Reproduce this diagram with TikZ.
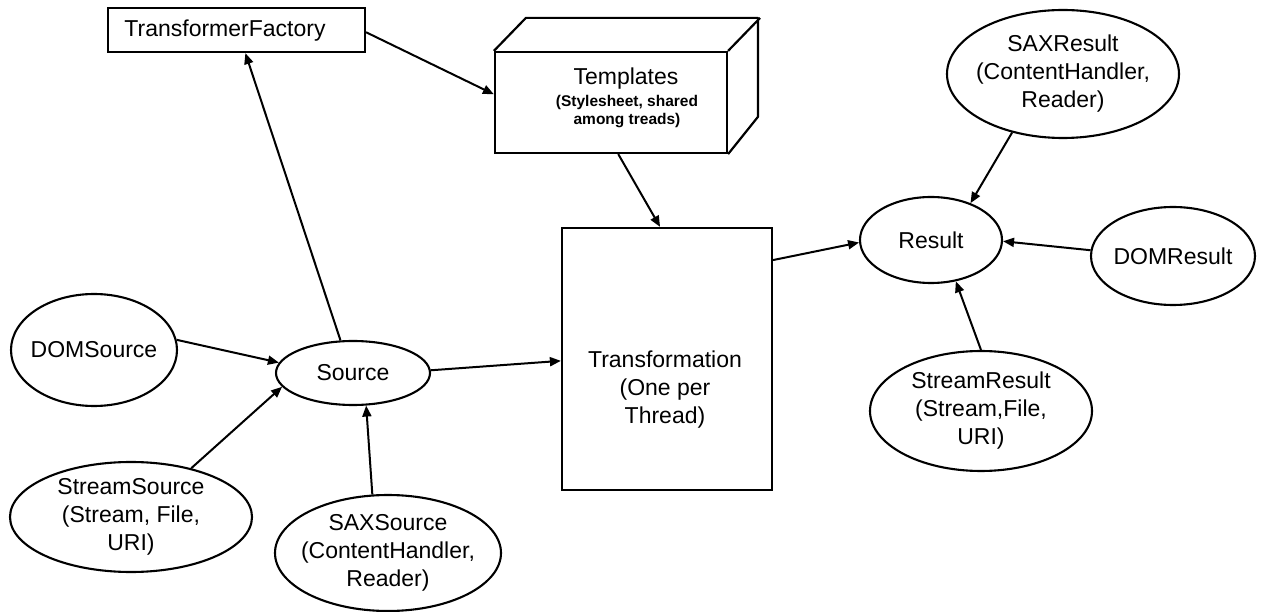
\documentclass[tikz,border=0pt]{standalone}
\usepackage{fontspec}
\setmainfont{Liberation Sans}
\usetikzlibrary{shapes.geometric,arrows.meta}
\begin{document}
\begin{tikzpicture}[x=1pt,y=-1pt,
  every node/.style={font=\fontsize{23}{28}\selectfont},
  oval/.style={draw, ellipse, line width=2.1pt, inner sep=-80pt, align=center},
  box/.style={draw, rectangle, line width=2.2pt, inner sep=0pt},
  txt/.style={align=center, inner sep=0pt},
  flow/.style={line width=2pt, -{Triangle[length=11pt,width=9pt]}}
]
\useasboundingbox (0,0) rectangle (1262,612);

% factory and templates
\node[box, minimum width=257pt, minimum height=44pt] (tf) at (236.5,30) {};
\node[txt] (tf-t) at (225,31) {TransformerFactory};

\node[box, minimum width=232pt, minimum height=101pt] (tmpl) at (611,102.5) {};
\draw[line width=2.2pt, line join=round]
  (tmpl.north west) -- ++(32,-33) -- ++(232,0) -- ++(0,99) -- (tmpl.south east)
  (tmpl.north east) -- ++(32,-33);
\node[txt] (tmpl-t) at (626,79) {Templates};
\node[txt, font=\bfseries\fontsize{15.5}{18}\selectfont] (tmpl-s) at (627,112)
  {(Stylesheet, shared\\among treads)};

% transformation
\node[box, minimum width=210pt, minimum height=262pt] (trans) at (667,359) {};
\node[txt] (trans-t) at (665,390) {Transformation\\(One per\\Thread)};

% sources
\node[oval, minimum width=166pt, minimum height=112pt] (doms) at (94,350) {DOMSource};
\node[oval, minimum width=154pt, minimum height=64pt] (src) at (353,373) {Source};
\node[oval, minimum width=242pt, minimum height=110pt] (sts) at (131,517) {StreamSource\\(Stream, File,\\URI)};
\node[oval, minimum width=226pt, minimum height=116pt] (saxs) at (388,553) {SAXSource\\(ContentHandler,\\Reader)};

% results
\node[oval, minimum width=142pt, minimum height=86pt] (res) at (931,240) {Result};
\node[oval, minimum width=164pt, minimum height=98pt] (domr) at (1173,256) {DOMResult};
\node[oval, minimum width=222pt, minimum height=120pt] (str) at (981,411) {StreamResult\\(Stream,File,\\URI)};
\node[oval, minimum width=232pt, minimum height=128pt] (saxr) at (1063,74) {SAXResult\\(ContentHandler,\\Reader)};

% connectors
\draw[flow] (doms.7) -- (src.172);
\draw[flow] (sts.39) -- (src.191);
\draw[flow] (saxs.105) -- (src.292);
\draw[flow] (src.111) -- (tf.-69);
\draw[flow] (tf.-1) -- (tmpl.176);
\draw[flow] (tmpl.-82) -- (trans.93);
\draw[flow] (src.2) -- (trans.181);
\draw[flow] (trans.43) -- (res.182);
\draw[flow] (saxr.229) -- (res.43);
\draw[flow] (domr.176) -- (res.-1);
\draw[flow] (str.90) -- (res.-59);
\end{tikzpicture}
\end{document}
